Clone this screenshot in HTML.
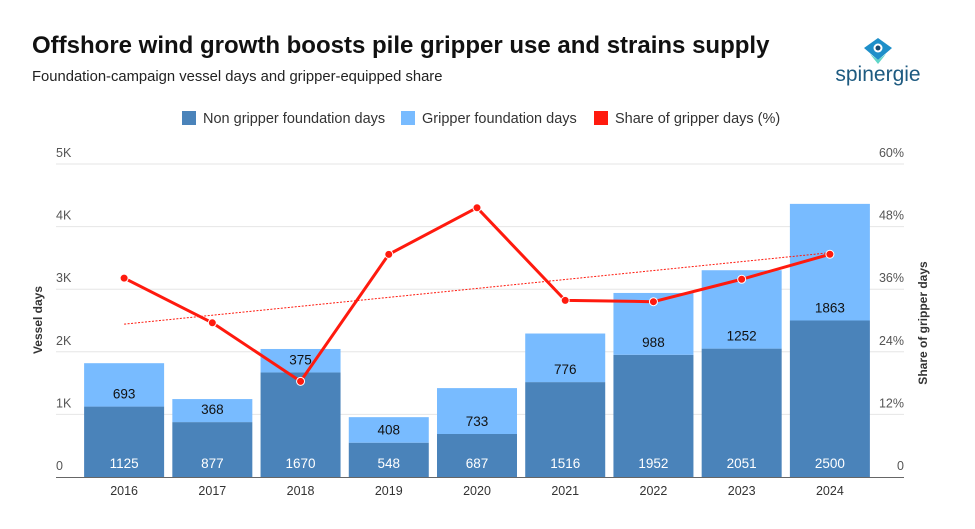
<!DOCTYPE html>
<html><head><meta charset="utf-8"><style>
body{margin:0;background:#fff;font-family:"Liberation Sans",sans-serif;}
#wrap{position:relative;width:975px;height:529px;overflow:hidden;}
</style></head><body>
<div id="wrap">
<div style="position:absolute;left:32px;top:32px;font-size:24px;font-weight:bold;color:#111;">Offshore wind growth boosts pile gripper use and strains supply</div>
<div style="position:absolute;left:32px;top:69px;font-size:14.8px;color:#222;">Foundation-campaign vessel days and gripper-equipped share</div>
<div style="position:absolute;left:828px;top:36px;width:100px;height:50px;">
<svg width="100" height="50"><path d="M36 12 L50 2 L64 12 L50 24 Z" fill="#1e8fc9"/><path d="M42 18 L50 24 L58 18 L50 28Z" fill="#5fd6c8"/><circle cx="50" cy="12" r="4.5" fill="#fff"/><circle cx="50" cy="12" r="2.5" fill="#1a4a6e"/>
<text x="50" y="45" text-anchor="middle" font-size="21" fill="#1d5a80" font-family="Liberation Sans">spinergie</text></svg></div>
<svg id="chart" width="975" height="529" style="position:absolute;left:0;top:0"></svg>
</div>
<script>
const categories=["2016","2017","2018","2019","2020","2021","2022","2023","2024"];
const nonGripper=[1125,877,1670,548,687,1516,1952,2051,2500];
const gripper=[693,368,375,408,733,776,988,1252,1863];
const trendShare=[29.3,43.0];
const leftTicks=[0,1000,2000,3000,4000,5000];
const leftTickLabels=["0","1K","2K","3K","4K","5K"];
const rightTicks=[0,12,24,36,48,60];
const rightTickLabels=["0","12%","24%","36%","48%","60%"];
const share=categories.map((c,i)=>gripper[i]/(gripper[i]+nonGripper[i])*100);

const NS="http://www.w3.org/2000/svg";
const svg=document.getElementById('chart');
function el(t,a,p){const e=document.createElementNS(NS,t);for(const k in a)e.setAttribute(k,a[k]);(p||svg).appendChild(e);return e;}
const x0=56,x1=904,y0=477,y1=164,bandL=80,bandR=874;
const step=(bandR-bandL)/categories.length;
const xc=i=>bandL+step*(i+0.5);
const yL=v=>y0-(v/5000)*(y0-y1);
const yR=v=>y0-(v/60)*(y0-y1);
const bw=80;

const lg=[["#4a83ba","Non gripper foundation days",182],["#78bbff","Gripper foundation days",401],["#ff1a0e","Share of gripper days (%)",594]];
lg.forEach(l=>{const g=el('g',{});


el('rect',{x:l[2],y:111,width:14,height:14,fill:l[0]},g);
const t=el('text',{x:l[2]+21,y:123,'font-size':14.5,fill:'#333'},g);t.textContent=l[1];});

leftTicks.forEach((v,i)=>{
 if(i>0){const g=el('line',{x1:x0,x2:x1,y1:yL(v),y2:yL(v),stroke:'#e6e6e6','stroke-width':1});
 }
 const t=el('text',{x:56,y:yL(v)-7,'font-size':12.5,fill:'#555'});t.textContent=leftTickLabels[i];
 
});
rightTicks.forEach((v,i)=>{
 const t=el('text',{x:904,y:yR(v)-7,'font-size':12.5,fill:'#555','text-anchor':'end'});t.textContent=rightTickLabels[i];
 
});
let t=el('text',{transform:'translate(42,320) rotate(-90)','font-size':12,'font-weight':'bold',fill:'#333','text-anchor':'middle'});t.textContent='Vessel days';

t=el('text',{transform:'translate(927,323) rotate(-90)','font-size':12,'font-weight':'bold',fill:'#333','text-anchor':'middle'});t.textContent='Share of gripper days';


categories.forEach((c,i)=>{
 const x=xc(i)-bw/2;
 const r1=el('rect',{x:x,y:yL(nonGripper[i]),width:bw,height:y0-yL(nonGripper[i]),fill:'#4a83ba'});
 
 const top=yL(nonGripper[i]+gripper[i]);
 const r2=el('rect',{x:x,y:top,width:bw,height:yL(nonGripper[i])-top,fill:'#78bbff'});
 
 const a=el('text',{x:xc(i),y:468,'font-size':13.5,fill:'#fff','text-anchor':'middle'});a.textContent=nonGripper[i];
 
 const b=el('text',{x:xc(i),y:yL(nonGripper[i])-8,'font-size':13.5,fill:'#111','text-anchor':'middle'});b.textContent=gripper[i];
 
 const xl=el('text',{x:xc(i),y:495,'font-size':12.5,fill:'#333','text-anchor':'middle'});xl.textContent=c;
 
});
const ax=el('line',{x1:x0,x2:x1,y1:y0+0.5,y2:y0+0.5,stroke:'#666','stroke-width':1});


const tr=el('line',{x1:xc(0),y1:yR(trendShare[0]),x2:xc(categories.length-1),y2:yR(trendShare[1]),stroke:'#ff1a0e','stroke-width':1,'stroke-dasharray':'2,1.5'});

const ln=el('polyline',{points:share.map((v,i)=>xc(i)+','+yR(v)).join(' '),fill:'none',stroke:'#ff1a0e','stroke-width':3,'stroke-linejoin':'round'});

share.forEach((v,i)=>{const p=el('circle',{cx:xc(i),cy:yR(v),r:4,fill:'#ff1a0e',stroke:'#fff','stroke-width':1});
});
</script>
</body></html>
